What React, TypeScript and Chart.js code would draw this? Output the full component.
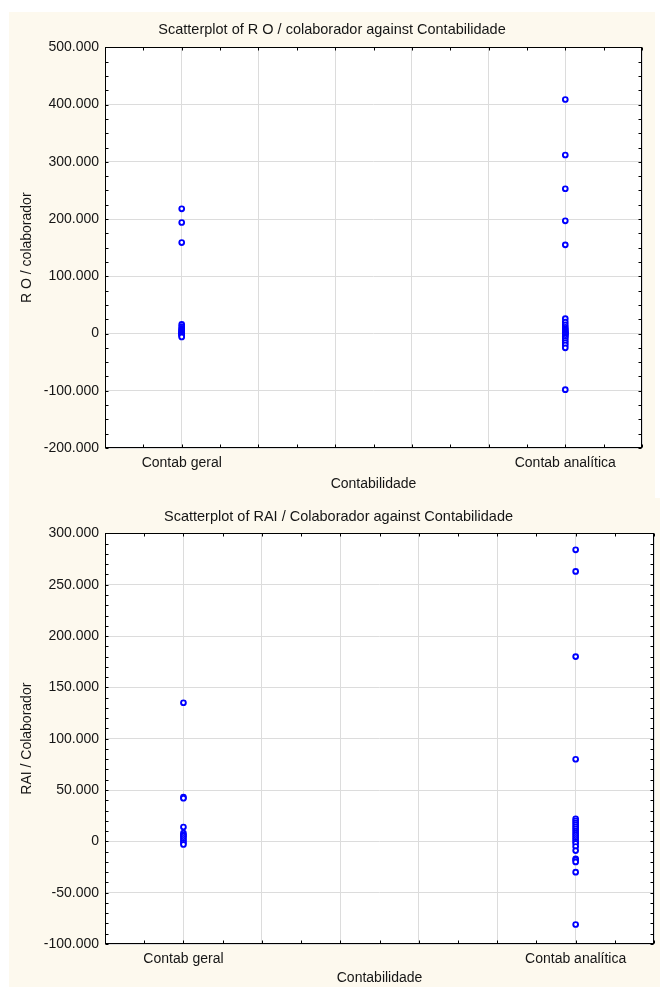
import React, { useEffect, useRef } from 'react';
import { Chart, registerables } from 'chart.js';

Chart.register(...registerables);

// ---------- data ----------
const categories = ['Contab geral', 'Contab analítica'];
const categoryIndex = [1, 6];
const xAxisMax = 7;
const xLabel = 'Contabilidade';

const titleRO = 'Scatterplot of R O / colaborador against Contabilidade';
const yLabelRO = 'R O / colaborador';
const roGeral = [218000, 194000, 159000, 16000, 12000, 9000, 7000, 5000, 4000, 2000, 1000, 0, -1000, -2000, -4000, -6000];
const roAnalitica = [409000, 312000, 253000, 197000, 155000, 26000, 20000, 15000, 11000, 8000, 6000, 4000, 2000, 1000, 0, -1000, -3000, -5000, -8000, -12000, -16000, -20000, -25000, -98000];
const roYMin = -200000;
const roYMax = 500000;
const roYStep = 100000;
const roYMinor = 25000;

const titleRAI = 'Scatterplot of RAI / Colaborador against Contabilidade';
const yLabelRAI = 'RAI / Colaborador';
const raiGeral = [135000, 43000, 42000, 14000, 8000, 6000, 5000, 3000, 1000, -1000, -3000];
const raiAnalitica = [284000, 263000, 180000, 80000, 22000, 20000, 18000, 16000, 14000, 12000, 10000, 8000, 6000, 4000, 2000, 0, -2000, -5000, -9000, -17000, -18000, -20000, -30000, -81000];
const raiYMin = -100000;
const raiYMax = 300000;
const raiYStep = 50000;
const raiYMinor = 10000;

// ---------- styling ----------
const FONT = '"Liberation Sans", Arial, sans-serif';
const TEXT = '#151515';
const GRID = '#DCDCDC';
const CREAM = '#FDF9EE';

const fmt = (v: number) => {
  if (v === 0) return '0';
  const k = Math.round(v / 1000);
  return `${k}.000`;
};

const framePlugin = {
  id: 'frame',
  beforeDraw(chart: any) {
    const { ctx, chartArea: a } = chart;
    ctx.save();
    ctx.fillStyle = '#FFFFFF';
    ctx.fillRect(a.left, a.top, a.right - a.left, a.bottom - a.top);
    ctx.restore();
  },
  afterDraw(chart: any, _args: any, opts: any) {
    const { ctx, chartArea: a, scales } = chart;
    const L = Math.round(a.left) + 0.5;
    const R = Math.round(a.right) - 0.5;
    const T = Math.round(a.top) + 0.5;
    const B = Math.round(a.bottom) - 0.5;
    ctx.save();
    ctx.strokeStyle = '#000';
    ctx.lineWidth = 1;
    ctx.strokeRect(L, T, R - L, B - T);
    ctx.beginPath();
    const tl = 3;
    const ys = scales.y;
    for (let v = ys.min; v <= ys.max + 1e-6; v += opts.yMinor) {
      const y = Math.round(ys.getPixelForValue(v)) + 0.5;
      ctx.moveTo(L, y); ctx.lineTo(L + tl, y);
      ctx.moveTo(R, y); ctx.lineTo(R - tl, y);
    }
    const xs = scales.x;
    for (let v = xs.min; v <= xs.max + 1e-6; v += opts.xMinor) {
      const x = Math.round(xs.getPixelForValue(v)) + 0.5;
      ctx.moveTo(x, T); ctx.lineTo(x, T + tl);
      ctx.moveTo(x, B); ctx.lineTo(x, B - tl);
    }
    ctx.stroke();
    ctx.restore();
  },
};

type PanelProps = {
  left: number; top: number; width: number; height: number;
  title: string; yLabel: string;
  geral: number[]; analitica: number[];
  yMin: number; yMax: number; yStep: number; yMinor: number;
  padLeft: number; padRight: number; plotRightGap: number; plotLeft: number; xAxisHeight: number;
  yTitlePad: number; xTitlePad: number; titlePadTop: number; titlePadBottom: number;
};

function Panel(p: PanelProps) {
  const ref = useRef<HTMLCanvasElement>(null);
  useEffect(() => {
    if (!ref.current) return;
    const points = [
      ...p.geral.map((v) => ({ x: categoryIndex[0], y: v })),
      ...p.analitica.map((v) => ({ x: categoryIndex[1], y: v })),
    ];
    const xTicks: number[] = [];
    for (let i = 0; i <= xAxisMax; i++) xTicks.push(i);
    const chart = new Chart(ref.current, {
      type: 'scatter',
      data: {
        datasets: [{
          data: points,
          pointStyle: 'circle',
          pointRadius: 2.4,
          pointBorderWidth: 1.9,
          pointBorderColor: '#0000FF',
          pointBackgroundColor: '#FFFFFF',
          borderColor: '#0000FF',
          backgroundColor: '#FFFFFF',
        }],
      },
      options: {
        animation: false,
        responsive: false,
        devicePixelRatio: 1,
        layout: { padding: { left: p.padLeft, right: p.padRight, top: 0, bottom: 0 } },
        plugins: {
          legend: { display: false },
          tooltip: { enabled: false },
          title: {
            display: true,
            text: p.title,
            color: TEXT,
            font: { family: FONT, size: 14.5, weight: 'normal' },
            padding: { top: p.titlePadTop, bottom: p.titlePadBottom },
          },
          // @ts-ignore
          frame: { yMinor: p.yMinor, xMinor: 0.5 },
        },
        scales: {
          x: {
            type: 'linear',
            min: 0,
            max: xAxisMax,
            afterBuildTicks: (s: any) => { s.ticks = xTicks.map((v) => ({ value: v })); },
            afterFit: (s: any) => { s.height = p.xAxisHeight; s.paddingLeft = 0; s.paddingRight = p.plotRightGap; },
            ticks: {
              autoSkip: false,
              maxRotation: 0,
              padding: 7,
              color: TEXT,
              font: { family: FONT, size: 14 },
              callback: (v: any) => {
                const i = categoryIndex.indexOf(Number(v));
                return i >= 0 ? categories[i] : '';
              },
            },
            grid: { color: GRID, drawTicks: false, lineWidth: 1 },
            border: { display: false },
            title: {
              display: true, text: xLabel, color: TEXT,
              font: { family: FONT, size: 14 },
              padding: { top: 0, bottom: p.xTitlePad },
            },
          },
          y: {
            type: 'linear',
            min: p.yMin,
            max: p.yMax,
            afterFit: (s: any) => { s.width = p.plotLeft - p.padLeft; },
            ticks: {
              stepSize: p.yStep,
              padding: 6,
              color: TEXT,
              font: { family: FONT, size: 14 },
              callback: (v: any) => fmt(Number(v)),
            },
            grid: { color: GRID, drawTicks: false, lineWidth: 1 },
            border: { display: false },
            title: {
              display: true, text: p.yLabel, color: TEXT,
              font: { family: FONT, size: 14 },
              padding: { top: p.yTitlePad, bottom: 0 },
            },
          },
        },
      },
      plugins: [framePlugin],
    } as any);
    return () => chart.destroy();
  }, []);
  return (
    <div style={{ position: 'absolute', left: p.left, top: p.top, width: p.width, height: p.height, background: CREAM }}>
      <canvas ref={ref} width={p.width} height={p.height} style={{ display: 'block', width: p.width, height: p.height }} />
    </div>
  );
}

export default function App() {
  return (
    <div style={{ position: 'absolute', left: 0, top: 0, width: 660, height: 987, background: '#FFFFFF', overflow: 'hidden' }}>
      <Panel
        left={9} top={12} width={646} height={486}
        title={titleRO} yLabel={yLabelRO}
        geral={roGeral} analitica={roAnalitica}
        yMin={roYMin} yMax={roYMax} yStep={roYStep} yMinor={roYMinor}
        padLeft={0} padRight={0} plotRightGap={13} plotLeft={96} xAxisHeight={50}
        yTitlePad={10} xTitlePad={5} titlePadTop={9} titlePadBottom={9}
      />
      <Panel
        left={9} top={498} width={651} height={489}
        title={titleRAI} yLabel={yLabelRAI}
        geral={raiGeral} analitica={raiAnalitica}
        yMin={raiYMin} yMax={raiYMax} yStep={raiYStep} yMinor={raiYMinor}
        padLeft={10} padRight={2} plotRightGap={0} plotLeft={96} xAxisHeight={43}
        yTitlePad={0} xTitlePad={0} titlePadTop={10} titlePadBottom={8}
      />
    </div>
  );
}
